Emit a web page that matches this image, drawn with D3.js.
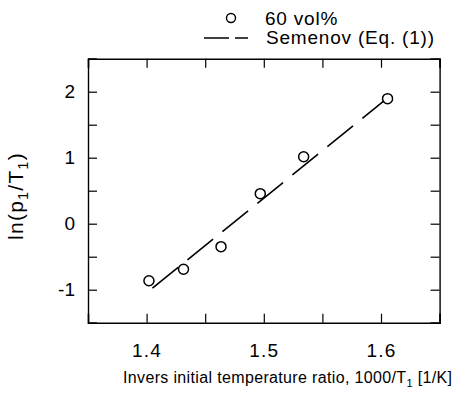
<!DOCTYPE html>
<html>
<head>
<meta charset="utf-8">
<script src="https://cdn.jsdelivr.net/npm/d3@7"></script>
<style>
  body { margin: 0; background: #fff; }
  text { font-family: "Liberation Sans", Arial, sans-serif; fill: #000; }
</style>
</head>
<body>
<div id="chart"></div>
<script>
// measured points, 60 vol%
var invTemp = [1.402, 1.4315, 1.4635, 1.497, 1.534, 1.6056];
var lnRatio = [-0.864, -0.69, -0.348, 0.455, 1.015, 1.895];

// Semenov line (Eq. (1)), two end points
var semenovX = [1.405, 1.6025];
var semenovY = [-0.977, 1.86];

// ticks
var xTicks = [1.35, 1.4, 1.45, 1.5, 1.55, 1.6, 1.65];
var xTickLabels = {"1.4": "1.4", "1.5": "1.5", "1.6": "1.6"};
var yTicks = [-1.5, -1, -0.5, 0, 0.5, 1, 1.5, 2, 2.5];
var yTickLabels = {"-1": "-1", "0": "0", "1": "1", "2": "2"};

var svgWidth = 468, svgHeight = 399;
var margins = {top: 58.7, bottom: 76.3, left: 88, right: 28.4};
var width = svgWidth - margins.left - margins.right;
var height = svgHeight - margins.top - margins.bottom;

var svg = d3.select("#chart")
  .append("svg")
    .attr("width", svgWidth)
    .attr("height", svgHeight)
  .append("g")
    .attr("transform", "translate(" + margins.left + "," + margins.top + ")");

var x = d3.scaleLinear().domain([1.35, 1.65]).range([0, width]);
var y = d3.scaleLinear().domain([-1.5, 2.5]).range([height, 0]);

// only the tenths get a label
var fmtX = d => xTickLabels[String(d)] || "";
var fmtY = d => yTickLabels[String(d)] || "";

// axes, ticks point inward
svg.append("g")
  .attr("class", "xb")
  .attr("transform", "translate(0," + height + ")")
  .call(d3.axisBottom(x).tickValues(xTicks).tickSize(-9).tickPadding(21).tickFormat(fmtX));
svg.append("g")
  .call(d3.axisTop(x).tickValues(xTicks).tickSize(-9).tickFormat(""));
svg.append("g")
  .attr("class", "yl")
  .call(d3.axisLeft(y).tickValues(yTicks).tickSize(-9).tickPadding(13).tickFormat(fmtY));
svg.append("g")
  .attr("transform", "translate(" + width + ",0)")
  .call(d3.axisRight(y).tickValues(yTicks).tickSize(-9).tickFormat(""));

svg.selectAll(".domain").attr("stroke-width", 1.4);
svg.selectAll(".tick line").attr("stroke-width", 1.2);
svg.selectAll(".tick text").style("font-size", "19px").attr("fill", "#000");
svg.selectAll(".xb .tick text").style("letter-spacing", "1.2px");

// Semenov line
var line = d3.line().x(d => x(d[0])).y(d => y(d[1]));
svg.append("path")
  .attr("d", line(d3.zip(semenovX, semenovY)))
  .attr("fill", "none")
  .attr("stroke", "#000")
  .attr("stroke-width", 1.6)
  .attr("stroke-dasharray", "33,12");

// data points
svg.selectAll("circle.pt")
  .data(d3.zip(invTemp, lnRatio))
  .enter().append("circle")
    .attr("class", "pt")
    .attr("cx", d => x(d[0]))
    .attr("cy", d => y(d[1]))
    .attr("r", 5)
    .attr("fill", "none")
    .attr("stroke", "#000")
    .attr("stroke-width", 1.5);

// axis titles
var root = d3.select("svg");
var xt = root.append("text")
  .attr("x", 123).attr("y", 383)
  .style("font-size", "16px")
  .style("letter-spacing", "0.35px");
xt.append("tspan").text("Invers initial temperature ratio, 1000/T");
xt.append("tspan").attr("dy", 4).style("font-size", "11px").text("1");
xt.append("tspan").attr("dy", -4).text(" [1/K]");

var yt = root.append("text")
  .attr("transform", "translate(23,196) rotate(-90)")
  .attr("text-anchor", "middle")
  .style("font-size", "21px")
  .style("letter-spacing", "1.3px");
yt.append("tspan").text("ln(p");
yt.append("tspan").attr("dy", 5).style("font-size", "14px").text("1");
yt.append("tspan").attr("dy", -5).text("/T");
yt.append("tspan").attr("dy", 5).style("font-size", "14px").text("1");
yt.append("tspan").attr("dy", -5).text(")");

// legend
var legend = root.append("g");
legend.append("circle")
  .attr("cx", 231).attr("cy", 18).attr("r", 4.5)
  .attr("fill", "none").attr("stroke", "#000").attr("stroke-width", 1.4);
legend.append("text").attr("x", 265).attr("y", 24.5)
  .style("font-size", "19px").style("letter-spacing", "0.8px").text("60 vol%");
legend.append("line")
  .attr("x1", 204).attr("x2", 248).attr("y1", 38).attr("y2", 38)
  .attr("stroke", "#000").attr("stroke-width", 1.5)
  .attr("stroke-dasharray", "25,6,13");
legend.append("text").attr("x", 266).attr("y", 44)
  .style("font-size", "19px").style("letter-spacing", "0.8px").text("Semenov (Eq. (1))");
</script>
</body>
</html>
